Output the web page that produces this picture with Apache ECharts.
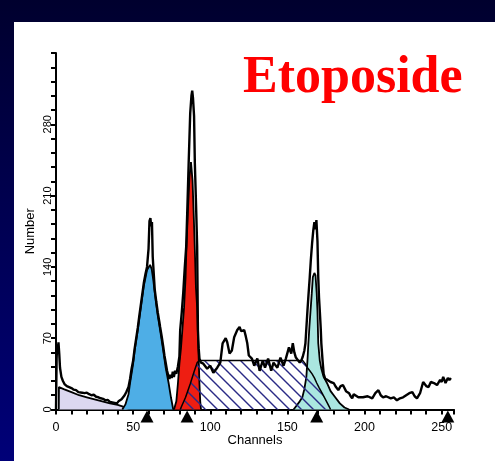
<!DOCTYPE html>
<html><head><meta charset="utf-8">
<script src="https://cdn.jsdelivr.net/npm/echarts@6/dist/echarts.min.js"></script>
<style>
html,body{margin:0;padding:0;width:495px;height:461px;overflow:hidden;background:linear-gradient(to bottom,#00002e 0%,#000050 45%,#000078 100%);}
#panel{position:absolute;left:14px;top:22px;width:481px;height:439px;background:#fff;}
#chart{position:absolute;left:0;top:0;width:495px;height:461px;}
</style></head>
<body><div id="panel"></div><div id="chart"></div>
<script>
// ---- data (channel, count) ----
const xTicks = [0, 50, 100, 150, 200, 250];
const yTicks = [0, 70, 140, 210, 280];
const markerChannels = [59, 85, 169, 254];

const debrisFill = [[1.8,0],[1.9,22],[5,20],[10,17],[15,14],[20,12],[25,10],[30,8],[35,6],[40,4.5],[43,3],[46,1],[48,0]];
const blueFill = [[43,0],[45,5],[47,15],[48,26],[50,45],[51,58],[53,78],[55,100],[57,122],[59,137],[61,142],[62,138],[63,128],[64,115],[65,103],[66,92],[67.5,78],[69.5,58],[71,42],[73,26],[74.5,12],[76,0]];
const redFill = [[76.5,0],[78,8],[79,25],[80,45],[81,60],[82,80],[83,100],[84,130],[84.5,157],[85.5,195],[86.5,228],[87.5,243],[88.5,225],[89.3,190],[90,157],[90.7,120],[91.5,100],[92,75],[92.5,50],[93,25],[93.5,8],[94,0]];
const tealFill = [[154,0],[156,4],[158,8],[159.7,12],[161,20],[162.3,32],[163,48],[163.6,65],[164.3,82],[165,97],[165.8,114],[166.5,130],[167.5,134],[168.2,132],[169,114],[169.5,96],[170,65],[171,48],[172,40],[173.5,32],[176,25],[178,18],[181,12],[184,6],[187,2],[190,0]];
const sPhase = [[80.5,0],[84,12],[87,25],[89.5,37],[91.5,46],[93,48],[160,48],[161.5,45],[163,41],[164.5,38],[166,35],[167.5,31],[169,26],[170.7,21],[172.5,16],[174.3,11],[176,6],[177,3],[178,0]];
const histogram = [
[0,0],[0.4,50],[0.8,64],[1.2,57],[1.6,66],[2.1,55],[2.6,41],[3.5,32],[4.5,28],[5.5,25],[7,23],[8.5,22],[10,21],[11.5,19.5],[13,19],[14.5,17],[15.5,18],[17,16.5],[18.5,16],[20,16.5],[21.5,15],[23,14],[24.5,14.5],[26,12.5],[27.5,12],[29,11],[30.5,10.5],[32,9],[33.5,9.5],[35,7.5],[36.5,7],[38,6.5],[39.5,6],[40.5,8],[41.5,6.5],[42.5,10],[43.5,9],[44.5,14],
[45.5,17],[47,22],[48,30],[49,40],[50,48],[51,60],[52,70],[53,80],[54,92],[55,103],[56,114],[57,125],[58,133],[59,140],[60,158],[60.6,185],[61.2,188],[61.7,180],[62.2,184],[62.7,150],[63.5,130],[64,118],[65,106],[66,95],[67,86],[67.5,81],[68.5,72],[69.5,62],[70.3,53],[71,47],[72,38],[72.8,33],[73.5,30],[74.2,34],[75,31],[75.7,37],[76.4,32],[77.2,38],[78,35],
[79,42],[80,52],[80.5,78],[81.5,95],[82.5,115],[83.5,140],[84.4,160],[85.2,200],[86,242],[87,291],[87.8,308],[88.3,313],[88.8,306],[89.5,288],[90,242],[90.8,200],[91.5,160],[92,78],[92.5,60],[93,50],[94,46],
[95.5,45],[97,42],[98,40],[100,43],[102,36],[104.5,41],[106.5,46],[108,65],[110,70],[111,66],[112.5,55],[114,58],[115.5,71],[117.5,78],[119,81],[120,77],[121,76],[122,78],[123,72],[124,65],[125,53],[127,50],[128.5,43],[130.5,50],[132,38],[134,48],[135.5,41],[137.5,50],[139.5,38],[141,46],[143.5,41],[145.5,51],[147.5,43],[149,50],[151,61],[152.5,55],[153.5,65],[154.5,56],[155.5,51],[156.5,50],[158,46],
[159,48],[160,52],[161,58],[161.7,65],[162.3,80],[163,97],[163.7,113],[164.5,130],[165.2,147],[166,163],[166.8,176],[167.5,184],[168.2,177],[168.8,186],[169.5,165],[170,130],[170.5,110],[171,97],[171.6,80],[172,65],[172.8,48],[173.5,35],[174.5,30],[176,29],[178,27],[180,26],[181.5,22],[183,19],[184.5,23],[186,24],[188,18],[190,16],[191,13],[192,11],[193,15],[194,14],[196,12],[197,13],[199,12],[202,13],[205,11],[207,16],[209,19],[210.5,14],[212,12],[214,13],[217,11],[219,12],[221,9],[223,11],[225,12],[227,14],[229,16],[231,17],[232.5,13],[234,11],[236,16],[238,27],[240,23],[241.5,22],[243,27],[245,26],[247,24],[249,29],[250,27],[251,32],[252.5,26],[254,31],[255,29],[256,31]
];

// ---- hatch pattern ----
function hatch(){
  const c=document.createElement('canvas'); c.width=c.height=12;
  const g=c.getContext('2d'); g.strokeStyle='#2a2a86'; g.lineWidth=1.4;
  g.beginPath(); g.moveTo(-1,-1); g.lineTo(13,13); g.moveTo(-1,11); g.lineTo(1,13); g.moveTo(11,-1); g.lineTo(13,1); g.stroke();
  return c;
}

const chart = echarts.init(document.getElementById('chart'));
const edge = {color:'#000', width:1.8};
function area(data, fill, z){
  return {type:'line', data, showSymbol:false, symbol:'none', lineStyle:edge, areaStyle:{color:fill, opacity:1}, z, silent:true};
}
chart.setOption({
  animation:false,
  backgroundColor:'transparent',
  title:{text:'Etoposide', left:243, top:53, padding:0,
    textStyle:{fontFamily:'Liberation Serif', fontWeight:'bold', fontSize:52, color:'#ff0000'}},
  grid:{left:56, right:41, top:53, bottom:51.5},
  xAxis:{type:'value', min:0, max:258, interval:10,
    axisLine:{lineStyle:{color:'#000', width:2}},
    axisTick:{length:5, lineStyle:{color:'#000', width:2}},
    splitLine:{show:false},
    axisLabel:{formatter:v=>xTicks.includes(v)?String(v):'', color:'#000', fontSize:12.5, fontFamily:'Liberation Sans', margin:12},
    name:'Channels', nameLocation:'middle', nameGap:24, nameMoveOverlap:false,
    nameTextStyle:{color:'#000', fontSize:13, fontFamily:'Liberation Sans'}},
  yAxis:{type:'value', min:0, max:350, interval:14,
    axisLine:{lineStyle:{color:'#000', width:2}},
    axisTick:{length:5, lineStyle:{color:'#000', width:2}},
    splitLine:{show:false},
    axisLabel:{formatter:v=>yTicks.includes(v)?String(v):'', rotate:90, color:'#000', fontSize:11, fontFamily:'Liberation Sans', margin:3},
    name:'Number', nameLocation:'middle', nameGap:19, nameMoveOverlap:false,
    nameTextStyle:{color:'#000', fontSize:13, fontFamily:'Liberation Sans'}},
  series:[
    area(debrisFill, '#dcd8f0', 2),
    area(blueFill, '#4eaee6', 3),
    area(redFill, '#ee1e12', 4),
    area(tealFill, '#aae6e0', 5),
    {type:'line', data:sPhase, showSymbol:false, symbol:'none', lineStyle:{color:'#000', width:1.5},
      areaStyle:{color:{image:hatch(), repeat:'repeat'}, opacity:1}, z:6, silent:true},
    {type:'line', data:histogram, showSymbol:false, symbol:'none', lineStyle:{color:'#000', width:2.4}, z:7, silent:true},
    {type:'scatter', data:markerChannels.map(c=>[c,0]), symbol:'triangle', symbolSize:[13,12], symbolOffset:[0,7],
      itemStyle:{color:'#000', opacity:1}, clip:false, z:8, silent:true}
  ]
});
</script>
</body></html>
